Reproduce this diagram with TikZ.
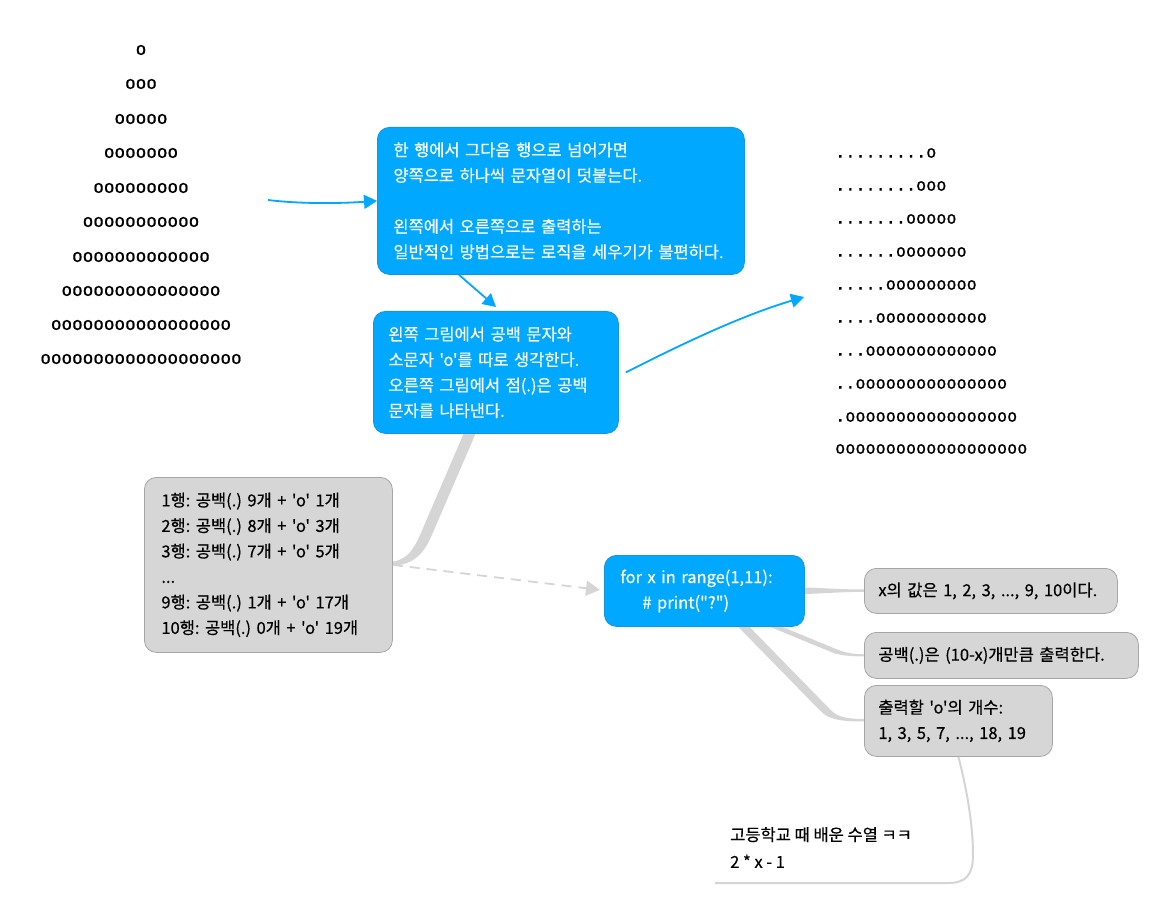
\documentclass[tikz,border=0pt]{standalone}
\usepackage{fontspec}
\newfontfamily\kr[FakeBold=0.5]{Noto Sans CJK KR}
\newfontfamily\mono[FakeBold=0.6]{DejaVu Sans Mono}
\usetikzlibrary{arrows.meta,calc}
\definecolor{xblue}{RGB}{0,168,255}
\definecolor{xblueline}{RGB}{20,150,222}
\definecolor{xgray}{RGB}{214,214,214}
\definecolor{xgrayline}{RGB}{166,166,166}
\definecolor{xconn}{RGB}{213,213,213}
\frenchspacing
\begin{document}
\begin{tikzpicture}[x=1pt,y=-1pt,
  boxbase/.style={rounded corners=12pt, line width=0.8pt, anchor=north west, align=left,
    inner ysep=0pt, font=\kr\fontsize{16.5}{25.5}\selectfont\frenchspacing},
  bluebox/.style={boxbase, draw=xblueline, fill=xblue, text=white},
  graybox/.style={boxbase, draw=xgrayline, fill=xgray, text=black},
  lpyr/.style={font=\mono\fontsize{17.6}{20}\selectfont, inner sep=0pt, anchor=center},
  rpyr/.style={font=\mono\fontsize{16.8}{20}\selectfont, inner sep=0pt, anchor=west},
  bluearrow/.style={draw=xblue, line width=1.8pt, -{Triangle[length=13pt,width=14pt]}},
  grayarrow/.style={draw=xconn, line width=1.8pt, dash pattern=on 10pt off 7pt,
    -{Triangle[length=14pt,width=15pt,fill=xconn]}},
  conn/.style={fill=xconn},
  thinconn/.style={draw=xconn, line width=2pt},
  plain/.style={font=\kr\fontsize{16.5}{27}\selectfont\frenchspacing, align=left, anchor=west, inner sep=0pt}
]
\useasboundingbox (0,0) rectangle (1160,904);
\fill[white] (0,0) rectangle (1160,904);

% left pyramid
\node[lpyr] (lp1) at (141,50) {o};
\node[lpyr] (lp2) at (141,84) {ooo};
\node[lpyr] (lp3) at (141,119) {ooooo};
\node[lpyr] (lp4) at (141,153) {ooooooo};
\node[lpyr] (lp5) at (141,188) {ooooooooo};
\node[lpyr] (lp6) at (141,222) {ooooooooooo};
\node[lpyr] (lp7) at (141,257) {ooooooooooooo};
\node[lpyr] (lp8) at (141,291) {ooooooooooooooo};
\node[lpyr] (lp9) at (141,325) {ooooooooooooooooo};
\node[lpyr] (lp10) at (141,359) {ooooooooooooooooooo};

% right pyramid
\node[rpyr] (rp1) at (835,153) {.........o};
\node[rpyr] (rp2) at (835,186) {........ooo};
\node[rpyr] (rp3) at (835,219) {.......ooooo};
\node[rpyr] (rp4) at (835,252) {......ooooooo};
\node[rpyr] (rp5) at (835,285) {.....ooooooooo};
\node[rpyr] (rp6) at (835,318) {....ooooooooooo};
\node[rpyr] (rp7) at (835,351) {...ooooooooooooo};
\node[rpyr] (rp8) at (835,384) {..ooooooooooooooo};
\node[rpyr] (rp9) at (835,417) {.ooooooooooooooooo};
\node[rpyr] (rp10) at (835,449) {ooooooooooooooooooo};

% tapered connectors (behind boxes)
\fill[conn] (469.5,420) -- (420.5,534) .. controls (413,551) and (406,561.5) .. (388,562)
  -- (388,566) .. controls (412,566) and (423,555) .. (431,537) -- (481.5,420) -- cycle;
\fill[conn] (790,587.5) -- (806,587.5) .. controls (830,588.5) and (845,589.5) .. (866,589.5)
  -- (866,591.8) .. controls (845,591.8) and (830,593) .. (806,594) -- (790,594) -- cycle;
\fill[conn] (760.9,618.1) -- (836.9,649.4) .. controls (846,653) and (853,654.3) .. (866,654.3)
  -- (866,656.5) .. controls (851,656.5) and (843,655.5) .. (835.1,653.6) -- (759.1,622.3) -- cycle;
\fill[conn] (732.9,609.9) -- (830.9,710.2) .. controls (838,717.5) and (848,719) .. (866,719)
  -- (866,721.5) .. controls (840,721.5) and (828,719.5) .. (820,710.5) -- (727.1,615.5) -- cycle;

% boxes
\node[bluebox, inner xsep=16pt, text width=335pt, minimum height=147pt] (top) at (377,127)
  {\mbox{한 행에서 그다음 행으로 넘어가면}\\ \mbox{양쪽으로 하나씩 문자열이 덧붙는다.}\\[25.5pt]
   \mbox{왼쪽에서 오른쪽으로 출력하는}\\ \mbox{일반적인 방법으로는 로직을 세우기가 불편하다.}};
\node[bluebox, inner xsep=15pt, text width=215pt, minimum height=122pt] (mid) at (373,311)
  {\mbox{왼쪽 그림에서 공백 문자와}\\ \mbox{소문자 'o'를 따로 생각한다.}\\ \mbox{오른쪽 그림에서 점(.)은 공백}\\ \mbox{문자를 나타낸다.}};
\node[graybox, inner xsep=17pt, text width=214pt, minimum height=175pt] (gl) at (144,477)
  {1행: 공백(.) 9개 + 'o' 1개\\ 2행: 공백(.) 8개 + 'o' 3개\\ 3행: 공백(.) 7개 + 'o' 5개\\ ...\\
   9행: 공백(.) 1개 + 'o' 17개\\ 10행: 공백(.) 0개 + 'o' 19개};
\node[bluebox, inner xsep=16pt, text width=168pt, minimum height=71pt] (for) at (604,555)
  {for x in range(1,11):\\ \hspace*{22pt}\# print("?")};
\node[graybox, inner xsep=14pt, text width=225pt, minimum height=45pt] (b1) at (864,568)
  {\mbox{x의 값은 1, 2, 3, ..., 9, 10이다.}};
\node[graybox, inner xsep=14pt, text width=246pt, minimum height=46pt] (b2) at (864,632)
  {\mbox{공백(.)은 (10-x)개만큼 출력한다.}};
\node[graybox, inner xsep=14pt, text width=160pt, minimum height=71pt] (b3) at (864,685)
  {출력할 'o'의 개수:\\ 1, 3, 5, 7, ..., 18, 19};

% bottom note
\node[plain] (note) at (730,847.5) {고등학교 때 배운 수열 ㅋㅋ\\ 2 * x - 1};
\coordinate (noteend) at (715,883);
\draw[thinconn] (b3.south) .. controls (967,790) and (973,825) .. (973,855)
  .. controls (973,875) and (966,883) .. (948,883) -- (noteend);

% arrows
\coordinate (a1s) at (268,200);
\draw[bluearrow] (a1s) .. controls (300,204) and (340,203.5) .. (top.west);
\draw[bluearrow] ($(top.south west)+(82,0)$) -- ($(mid.north west)+(123,-4)$);
\coordinate (a3e) at (804,297);
\draw[bluearrow] ($(mid.east)+(7,0)$) .. controls (680,345) and (740,316) .. (a3e);
\draw[grayarrow] (gl.east) -- ($(for.west)+(-4,-1)$);
\end{tikzpicture}
\end{document}
